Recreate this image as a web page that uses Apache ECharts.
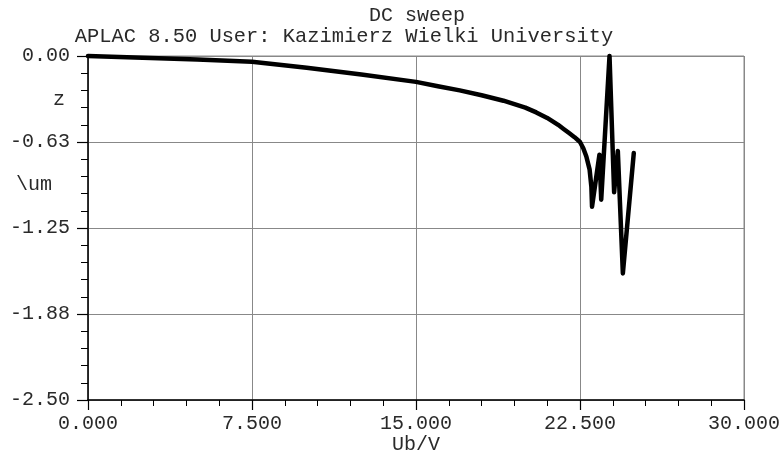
<!DOCTYPE html>
<html>
<head>
<meta charset="utf-8">
<script src="https://cdn.jsdelivr.net/npm/echarts@6/dist/echarts.min.js"></script>
<style>html,body{margin:0;padding:0;background:#fff;}#c{width:782px;height:452px;}</style>
</head>
<body>
<div id="c"></div>
<script>
var titleText = 'DC sweep';
var subText = 'APLAC 8.50 User: Kazimierz Wielki University';
var xName = 'Ub/V';
var yName1 = 'z';
var yName2 = '\\um';
var xTickLabels = ['0.000', '7.500', '15.000', '22.500', '30.000'];
var yTickLabels = ['0.00', '-0.63', '-1.25', '-1.88', '-2.50'];
var ubValues = [0, 2.5, 5, 7.5, 10, 12.5, 15, 16, 17, 18, 19, 20, 20.5, 21, 21.5, 21.75, 22, 22.25, 22.5, 22.65, 22.79, 22.94, 23.02, 23.05, 23.39, 23.47, 23.85, 24.06, 24.23, 24.46, 24.96];
var zValues = [0, -0.013, -0.025, -0.042, -0.086, -0.135, -0.188, -0.22, -0.25, -0.285, -0.325, -0.375, -0.41, -0.45, -0.5, -0.53, -0.56, -0.59, -0.625, -0.67, -0.73, -0.826, -0.95, -1.095, -0.717, -1.044, 0.0, -0.99, -0.69, -1.58, -0.705];

var FONT = 'Liberation Mono';
var TXT = '#2a2a2a';
var chart = echarts.init(document.getElementById('c'), null, {renderer: 'canvas'});
var data = ubValues.map(function (u, i) { return [u, zValues[i]]; });
chart.setOption({
  animation: false,
  backgroundColor: '#fff',
  title: [
    {text: titleText, left: 412, top: 1, textAlign: 'center',
     textStyle: {fontFamily: FONT, fontSize: 20, fontWeight: 'normal', color: TXT}},
    {text: subText, left: 339, top: 22, textAlign: 'center',
     textStyle: {fontFamily: FONT, fontSize: 20.4, fontWeight: 'normal', color: TXT}}
  ],
  graphic: [
    {type: 'text', left: 53, top: 90, style: {text: yName1, font: '20px ' + FONT, fill: TXT}},
    {type: 'text', left: 16, top: 175, style: {text: yName2, font: '20px ' + FONT, fill: TXT}}
  ],
  grid: {left: 88, right: 38, top: 56, bottom: 52, containLabel: false, outerBoundsMode: 'none',
    show: true, borderColor: '#888', borderWidth: 1, backgroundColor: 'transparent'},
  xAxis: {
    type: 'value', min: 0, max: 30, interval: 7.5,
    name: xName, nameLocation: 'middle', nameGap: 35, nameMoveOverlap: false,
    nameTextStyle: {fontFamily: FONT, fontSize: 20, color: TXT},
    axisLine: {show: true, onZero: false, lineStyle: {color: '#000', width: 1.5}},
    axisTick: {show: true, inside: false, length: 10, lineStyle: {color: '#000', width: 1.2}},
    minorTick: {show: true, splitNumber: 5, length: 6, lineStyle: {color: '#000', width: 1}},
    splitLine: {show: true, lineStyle: {color: '#888', width: 1}},
    axisLabel: {margin: 14, fontFamily: FONT, fontSize: 20, color: TXT,
      formatter: function (v) { return xTickLabels[Math.round(v / 7.5)]; }}
  },
  yAxis: {
    type: 'value', min: -2.5, max: 0, interval: 0.625,
    axisLine: {show: true, onZero: false, lineStyle: {color: '#000', width: 1.5}},
    axisTick: {show: true, inside: false, length: 11, lineStyle: {color: '#000', width: 1.2}},
    minorTick: {show: true, splitNumber: 5, length: 7, lineStyle: {color: '#000', width: 1}},
    splitLine: {show: true, lineStyle: {color: '#888', width: 1}},
    axisLabel: {margin: 18, fontFamily: FONT, fontSize: 20, color: TXT,
      formatter: function (v) { return yTickLabels[Math.round(-v / 0.625)]; }}
  },
  series: [{
    type: 'line', data: data, showSymbol: false, smooth: false, clip: false,
    lineStyle: {color: '#000', width: 4.5, join: 'round', cap: 'round'}
  }]
});
</script>
</body>
</html>
